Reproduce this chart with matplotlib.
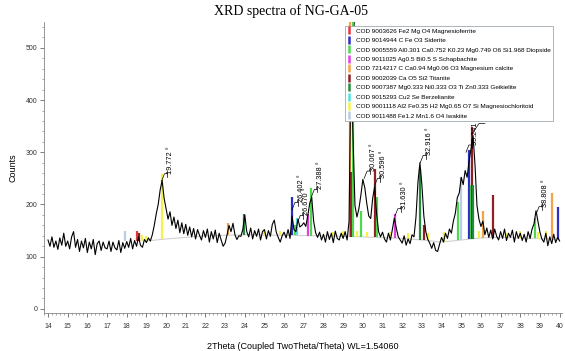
import numpy as np
import matplotlib
matplotlib.use("Agg")
import matplotlib.pyplot as plt
from matplotlib.lines import Line2D
from matplotlib.ticker import MultipleLocator

plt.rcParams['font.family'] = ['Liberation Sans', 'DejaVu Sans']

# diffractogram, 0.1 deg steps from 14.0 to 40.0
two_theta = np.round(np.arange(14.0, 40.05, 0.1), 2)
counts = [
    132, 120, 138, 118, 130, 114, 136, 122, 145, 120,
    130, 115, 138, 148, 118, 133, 110, 130, 117, 135,
    108, 128, 115, 133, 104, 125, 130, 112, 128, 117,
    115, 130, 110, 128, 117, 113, 131, 108, 127, 116,
    129, 118, 135, 115, 131, 120, 138, 122, 118, 133,
    127, 136, 130, 142, 160, 182, 200, 228, 246, 212,
    192, 172, 186, 160, 176, 154, 170, 146, 165, 144,
    162, 141, 157, 138, 154, 134, 152, 141, 132, 150,
    137, 153, 128, 148, 134, 151, 127, 145, 132, 120,
    126, 142, 160, 148, 164, 142, 133, 140, 139, 152,
    180, 148, 138, 155, 134, 150, 139, 153, 132, 148,
    152, 134, 150, 139, 162, 170, 147, 137, 128, 140,
    147, 136, 152, 135, 178, 152, 148, 172, 157, 160,
    165, 158, 178, 202, 214, 168, 146, 137, 147, 132,
    143, 128, 148, 133, 145, 127, 149, 135, 132, 145,
    135, 148, 132, 168, 480, 330, 198, 176, 192, 218,
    248, 232, 202, 178, 173, 212, 234, 182, 148, 138,
    147, 134, 128, 145, 132, 152, 174, 155, 138, 132,
    126, 140, 122, 134, 125, 142, 138, 176, 242, 280,
    238, 178, 148, 133, 126, 116, 127, 112, 110, 124,
    137, 128, 145, 135, 153, 145, 168, 183, 213, 222,
    252, 238, 265, 252, 283, 308, 332, 276, 198, 172,
    158, 168, 142, 155, 137, 151, 134, 153, 139, 132,
    148, 135, 153, 131, 145, 137, 151, 128, 148, 135,
    145, 131, 143, 128, 148, 135, 153, 163, 188, 168,
    147, 134, 128, 145, 121, 138, 125, 143, 127, 137,
    130,
]

# fitted background
bg_x = [19.0, 20.0, 21.0, 22.0, 23.0, 24.0, 26.0, 28.0, 30.0, 32.0, 33.0, 34.0, 35.0, 36.0, 37.0, 38.0, 40.0]
bg_y = [130, 134, 137, 140, 141, 142, 141, 140, 138, 135, 132, 128, 132, 136, 137, 136, 133]

phases = [
    "COD 9003626 Fe2 Mg O4 Magnesioferrite",
    "COD 9014944 C Fe O3 Siderite",
    "COD 9005559 Al0.301 Ca0.752 K0.23 Mg0.749 O6 Si1.968 Diopside",
    "COD 9011025 Ag0.5 Bi0.5 S Schapbachite",
    "COD 7214217 C Ca0.94 Mg0.06 O3 Magnesium calcite",
    "COD 9002039 Ca O5 Si2 Titanite",
    "COD 9007387 Mg0.333 Ni0.333 O3 Ti Zn0.333 Geikielite",
    "COD 9015293 Cu2 Se Berzelianite",
    "COD 9001118 Al2 Fe0.35 H2 Mg0.65 O7 Si Magnesiochloritoid",
    "COD 9011488 Fe1.2 Mn1.6 O4 Iwakiite",
]
phase_colors = ['#e8373a', '#2b2fc4', '#4cd94c', '#e33fe3', '#f2a24a',
                '#8e1f22', '#238a3a', '#4fe3e3', '#f5f04a', '#b9cde4']

# reference sticks: position, top intensity, phase index
stick_pos = [17.9, 18.5, 18.6, 18.8, 19.0, 19.77, 23.15, 23.96, 25.0, 25.8,
             26.40, 26.55, 26.67, 27.2, 27.39, 28.5, 29.0, 29.35, 29.42, 29.5,
             29.7, 29.9, 30.2, 30.6, 30.72, 31.4, 31.63, 32.3, 32.92, 33.1,
             33.3, 34.1, 34.85, 35.0, 35.4, 35.5, 35.55, 35.62, 35.9, 36.1,
             36.6, 37.3, 38.0, 38.75, 38.9, 39.3, 39.6, 39.9]
stick_top = [150, 150, 145, 142, 140, 258, 165, 182, 152, 150,
             215, 160, 175, 182, 232, 148, 150, 600, 262, 600,
             150, 188, 148, 268, 215, 148, 182, 145, 268, 160,
             146, 148, 205, 252, 305, 238, 348, 238, 150, 188,
             218, 145, 150, 175, 148, 150, 222, 195]
stick_phase = [9, 0, 5, 8, 8, 8, 4, 6, 8, 8,
               1, 2, 7, 3, 2, 8, 8, 4, 5, 2,
               8, 2, 8, 5, 2, 8, 3, 8, 6, 5,
               8, 8, 2, 9, 1, 2, 5, 6, 8, 4,
               5, 8, 8, 2, 8, 8, 4, 1]

# labelled peaks
peak_pos = [19.772, 26.402, 26.670, 27.388, 30.067, 30.596, 31.630, 32.916, 35.241, 38.808]
peak_top = [245, 190, 165, 215, 250, 236, 178, 280, 300, 182]
peak_text = ["19.772 °", "26.402 °", "26.670 °", "27.388 °", "30.067 °",
             "30.596 °", "31.630 °", "32.916 °", "35.241 °", "38.808 °"]

fig = plt.figure(figsize=(5.65, 3.51), dpi=100)
ax = fig.add_axes([0.078, 0.108, 0.917, 0.83])

ax.plot(bg_x, bg_y, color='#d0d0d0', lw=0.8, zorder=1)

for p, t, k in zip(stick_pos, stick_top, stick_phase):
    b = np.interp(p, bg_x, bg_y)
    ax.vlines(p, b, t, color=phase_colors[k], lw=1.6, zorder=2)

ax.plot(two_theta, counts, color='black', lw=0.8, zorder=3)

# hidden label hooks of the two strongest peaks (run under the legend)
ax.plot([29.42, 29.6, 29.8], [480, 560, 560], color='black', lw=0.5, zorder=4)
ax.plot([35.55, 35.9, 36.2], [335, 355, 355], color='black', lw=0.5, zorder=4)

for p, t, s in zip(peak_pos, peak_top, peak_text):
    ax.plot([p, p + 0.15, p + 0.3], [t, t + 14, t + 14], color='black', lw=0.5, zorder=4)
    ax.plot([p + 0.3, p + 0.3], [t + 8, t + 20], color='black', lw=0.5, zorder=4)
    ax.text(p + 0.47, t + 14, s, rotation=90, fontsize=5.3, ha='center', va='bottom', zorder=4)

ax.set_xlim(13.8, 40.13)
ax.set_ylim(-8, 550)
ax.xaxis.set_major_locator(MultipleLocator(1))
ax.xaxis.set_minor_locator(MultipleLocator(0.2))
ax.yaxis.set_major_locator(MultipleLocator(100))
ax.yaxis.set_minor_locator(MultipleLocator(20))
for side in ['top', 'right']:
    ax.spines[side].set_visible(False)
for side in ['left', 'bottom']:
    ax.spines[side].set_color('#888888')
    ax.spines[side].set_linewidth(0.6)
ax.tick_params(which='major', length=3, width=0.6, color='#666666', labelsize=5, labelcolor='#333333', pad=2)
ax.tick_params(which='minor', length=1.6, width=0.5, color='#888888')
ax.tick_params(axis='x', pad=4)

ax.set_xlabel("2Theta (Coupled TwoTheta/Theta) WL=1.54060", fontsize=6.5, labelpad=9)
ax.set_ylabel("Counts", fontsize=6.5, labelpad=6)
fig.text(0.515, 0.968, "XRD spectra of NG-GA-05", family='Liberation Serif', fontsize=10,
         ha='center', va='center')

handles = [Line2D([], [], color=c, marker='|', linestyle='none', markersize=5.5, markeredgewidth=1.8)
           for c in phase_colors]
leg = ax.legend(handles, phases, loc='upper left', bbox_to_anchor=(0.605, 0.935),
                bbox_transform=fig.transFigure, fontsize=4.6, labelspacing=0.62,
                handlelength=0.7, handletextpad=0.6, borderpad=0.35, fancybox=False,
                framealpha=1, edgecolor='#a0a8b0')
leg.get_frame().set_linewidth(0.6)
leg.set_zorder(10)

fig.savefig("out.png", dpi=100)
